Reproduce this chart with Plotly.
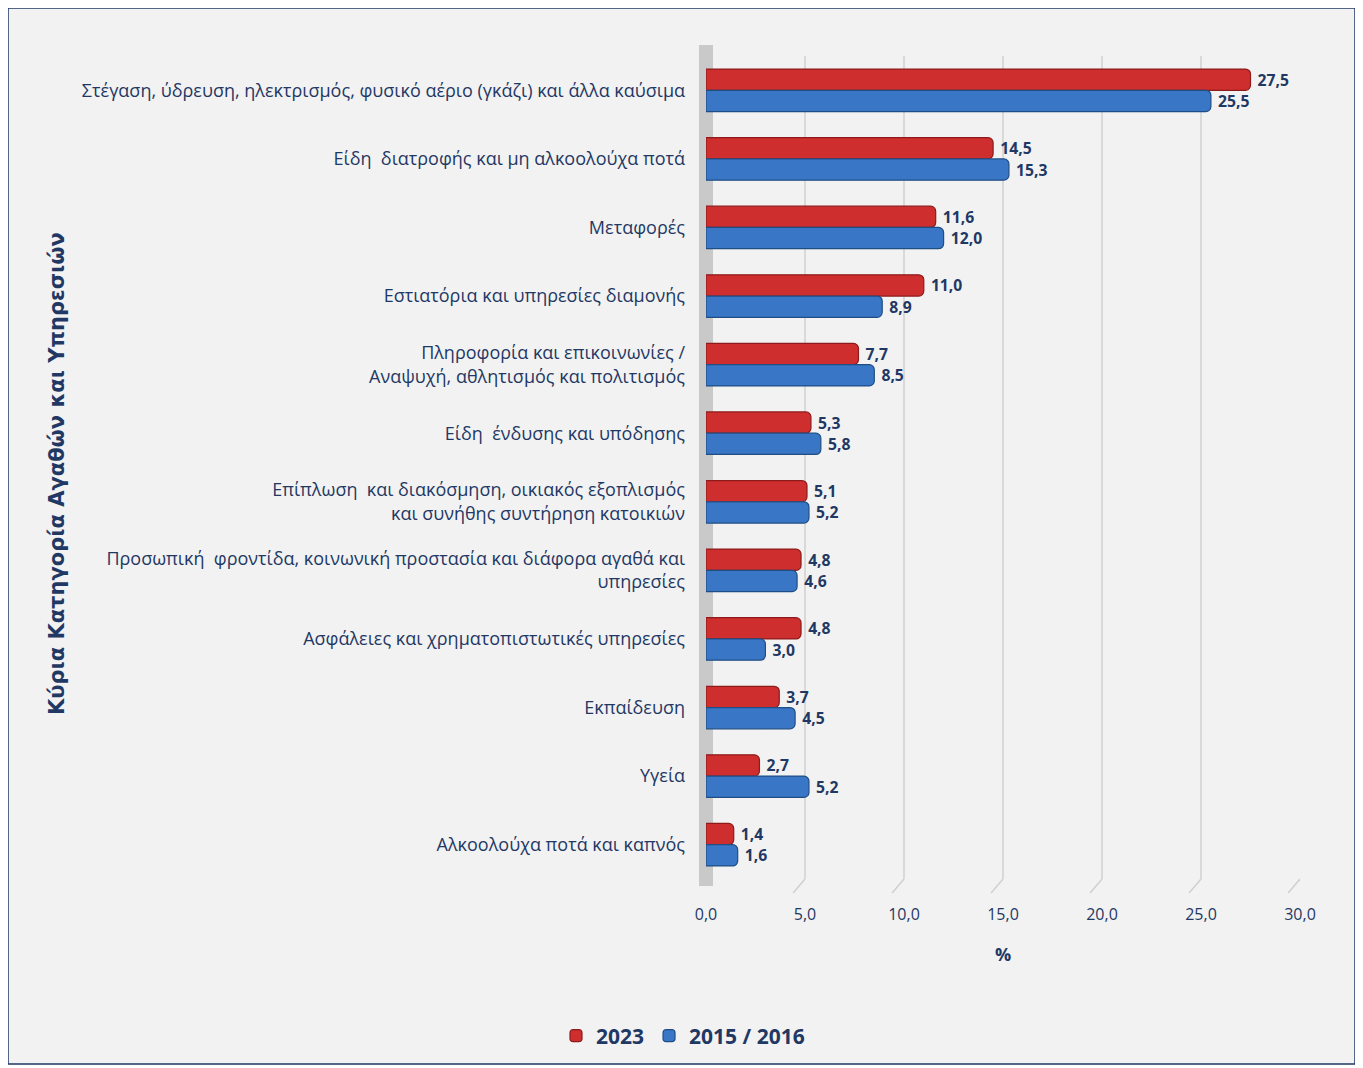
import plotly.graph_objects as go

categories = [
    "Στέγαση, ύδρευση, ηλεκτρισμός, φυσικό αέριο (γκάζι) και άλλα καύσιμα",
    "Είδη  διατροφής και μη αλκοολούχα ποτά",
    "Μεταφορές",
    "Εστιατόρια και υπηρεσίες διαμονής",
    "Πληροφορία και επικοινωνίες /<br>Αναψυχή, αθλητισμός και πολιτισμός",
    "Είδη  ένδυσης και υπόδησης",
    "Επίπλωση  και διακόσμηση, οικιακός εξοπλισμός<br>και συνήθης συντήρηση κατοικιών",
    "Προσωπική  φροντίδα, κοινωνική προστασία και διάφορα αγαθά και<br>υπηρεσίες",
    "Ασφάλειες και χρηματοπιστωτικές υπηρεσίες",
    "Εκπαίδευση",
    "Υγεία",
    "Αλκοολούχα ποτά και καπνός",
]
values_2023 = [27.5, 14.5, 11.6, 11.0, 7.7, 5.3, 5.1, 4.8, 4.8, 3.7, 2.7, 1.4]
values_2015 = [25.5, 15.3, 12.0, 8.9, 8.5, 5.8, 5.2, 4.6, 3.0, 4.5, 5.2, 1.6]
series_names = ["2023", "2015 / 2016"]
x_ticks = [0, 5, 10, 15, 20, 25, 30]

NAVY = "#1f3864"
FONT = "Open Sans, sans-serif"

OFF = 8  # page body offset
W, H = 1363 - OFF, 1068 - OFF
# screen-pixel targets
SL, SR, ST, SB = 706, 1300, 56, 879
L, R, T, B = SL - OFF, SR - OFF, ST - OFF, SB - OFF
pw, ph = R - L, B - T

def px_x(p):
    return (p - SL) / pw

def px_y(q):
    return (SB - q) / ph

fig = go.Figure()
fig.add_trace(go.Bar(
    y=categories, x=values_2023, name=series_names[0], orientation="h",
    marker=dict(color="#cf2e2e", line=dict(color="#8e1b1b", width=1.2), cornerradius=5),
    texttemplate="\u00a0%{x:.1f}", textposition="outside", cliponaxis=False,
    textfont=dict(family=FONT, size=17, color=NAVY, weight="bold"),
))
fig.add_trace(go.Bar(
    y=categories, x=values_2015, name=series_names[1], orientation="h",
    marker=dict(color="#3a76c6", line=dict(color="#1f4e85", width=1.2), cornerradius=5),
    texttemplate="\u00a0%{x:.1f}", textposition="outside", cliponaxis=False,
    textfont=dict(family=FONT, size=17, color=NAVY, weight="bold"),
))

shapes = [
    # outer frame
    dict(type="rect", xref="paper", yref="paper",
         x0=px_x(8), x1=px_x(1355), y0=px_y(1064), y1=px_y(8),
         fillcolor="#f2f2f2", line=dict(color=NAVY, width=1.5), layer="below"),
    # left wall
    dict(type="rect", xref="paper", yref="paper",
         x0=px_x(699), x1=px_x(713), y0=px_y(886), y1=px_y(45),
         fillcolor="#c9c9c9", line=dict(width=0), layer="below"),
]
for t in x_ticks:
    shapes.append(dict(type="line", xref="x", yref="paper",
                       x0=t, x1=t - 0.6, y0=px_y(879), y1=px_y(893),
                       line=dict(color="#d0d0d0", width=1.5), layer="below"))

fig.update_layout(
    width=W, height=H,
    margin=dict(l=L, r=W - R, t=T, b=H - B, pad=0),
    paper_bgcolor="white", plot_bgcolor="rgba(0,0,0,0)",
    barmode="group", bargap=0.38, bargroupgap=0.0,
    separators=",.",
    font=dict(family=FONT, color=NAVY, size=18),
    shapes=shapes,
    showlegend=True,
    legend=dict(orientation="h", x=px_x(556), xanchor="left", y=px_y(1036), yanchor="middle",
                font=dict(family=FONT, size=21, color=NAVY, weight="bold"),
                bgcolor="rgba(0,0,0,0)", itemwidth=30, traceorder="normal"),
    xaxis=dict(range=[0, 30], tickvals=x_ticks, tickformat=".1f",
               showgrid=True, gridcolor="#d9d9d9", gridwidth=1.5,
               zeroline=False, showline=False, ticks="", ticklabelstandoff=24,
               tickfont=dict(family=FONT, size=16, color=NAVY),
               title=dict(text="%", font=dict(family=FONT, size=18, color=NAVY, weight="bold"),
                          standoff=24)),
    yaxis=dict(autorange="reversed", showgrid=False, zeroline=False, showline=False,
               ticks="", ticklabelstandoff=20,
               tickfont=dict(family=FONT, size=18, color=NAVY)),
    annotations=[dict(text="Κύρια Κατηγορία Αγαθών και Υπηρεσιών", textangle=-90,
                      xref="paper", yref="paper", x=px_x(57), y=px_y(474),
                      xanchor="center", yanchor="middle", showarrow=False,
                      font=dict(family="DejaVu Sans, sans-serif", size=21, color=NAVY, weight="bold"))],
)

fig.write_html("out.html")
